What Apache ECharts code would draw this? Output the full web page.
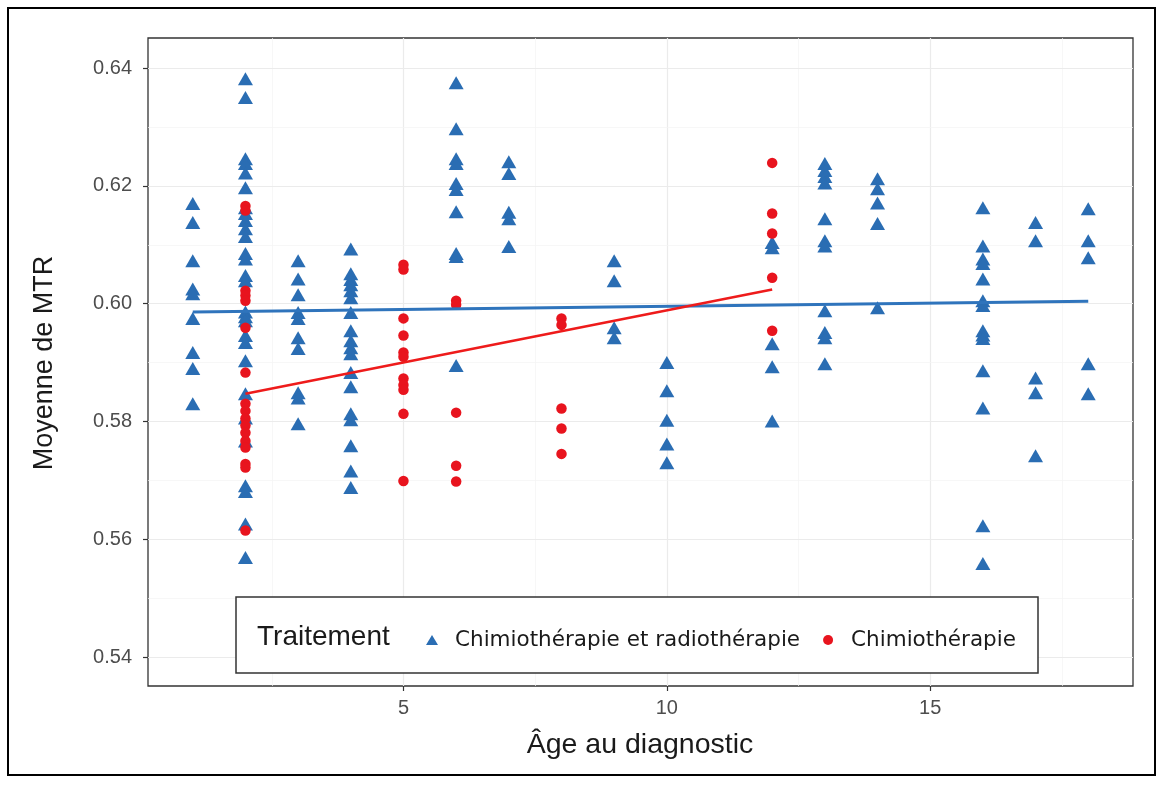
<!DOCTYPE html>
<html>
<head>
<meta charset="utf-8">
<script src="https://cdn.jsdelivr.net/npm/echarts@6/dist/echarts.min.js"></script>
<style>
html,body{margin:0;padding:0;background:#fff;}
#chart{width:1163px;height:785px;}
</style>
</head>
<body>
<div id="chart"></div>
<script>
// ---- Data ----
const xTicks = [5, 10, 15];
const yTicks = [0.54, 0.56, 0.58, 0.60, 0.62, 0.64];
const xMinorGrid = [2.5, 7.5, 12.5, 17.5];
const yMinorGrid = [0.55, 0.57, 0.59, 0.61, 0.63];

const seriesNames = ['Chimiothérapie et radiothérapie', 'Chimiothérapie'];

// Chimiothérapie et radiothérapie (blue triangles)
const crAges = [1, 2, 3, 4, 6, 7, 9, 10, 12, 13, 14, 16, 17, 18];
const crValues = [
  [0.6170, 0.6138, 0.6073, 0.6025, 0.6017, 0.5975, 0.5917, 0.5890, 0.5830],
  [0.6382, 0.6350, 0.6246, 0.6238, 0.6222, 0.6197, 0.6163, 0.6153, 0.6141, 0.6127, 0.6114, 0.6085, 0.6076, 0.6048, 0.6039, 0.5986, 0.5978, 0.5971, 0.5946, 0.5934, 0.5903, 0.5847, 0.5806, 0.5767, 0.5691, 0.5681, 0.5626, 0.5569],
  [0.6073, 0.6042, 0.6015, 0.5985, 0.5975, 0.5942, 0.5924, 0.5849, 0.5840, 0.5796],
  [0.6093, 0.6051, 0.6041, 0.6032, 0.6022, 0.6010, 0.5985, 0.5954, 0.5937, 0.5925, 0.5915, 0.5883, 0.5859, 0.5813, 0.5803, 0.5759, 0.5716, 0.5688],
  [0.6375, 0.6297, 0.6246, 0.6238, 0.6204, 0.6194, 0.6156, 0.6085, 0.6080, 0.5895],
  [0.6241, 0.6221, 0.6155, 0.6144, 0.6097],
  [0.6073, 0.6039, 0.5959, 0.5942],
  [0.5900, 0.5852, 0.5802, 0.5762, 0.5730],
  [0.6104, 0.6095, 0.5932, 0.5893, 0.5801],
  [0.6238, 0.6226, 0.6216, 0.6205, 0.6144, 0.6107, 0.6098, 0.5988, 0.5951, 0.5942, 0.5898],
  [0.6212, 0.6195, 0.6171, 0.6136, 0.5993],
  [0.6163, 0.6098, 0.6076, 0.6068, 0.6042, 0.6005, 0.5997, 0.5954, 0.5947, 0.5941, 0.5886, 0.5823, 0.5623, 0.5559],
  [0.6138, 0.6107, 0.5874, 0.5849, 0.5742],
  [0.6161, 0.6107, 0.6078, 0.5898, 0.5847]
];

// Chimiothérapie (red dots)
const chAges = [2, 5, 6, 8, 12];
const chValues = [
  [0.6166, 0.6158, 0.6022, 0.6014, 0.6005, 0.5959, 0.5883, 0.5830, 0.5818, 0.5805, 0.5793, 0.5781, 0.5767, 0.5756, 0.5728, 0.5722, 0.5615],
  [0.6066, 0.6058, 0.5975, 0.5946, 0.5917, 0.5910, 0.5873, 0.5862, 0.5854, 0.5813, 0.5699],
  [0.6005, 0.5998, 0.5815, 0.5725, 0.5698],
  [0.5975, 0.5964, 0.5822, 0.5788, 0.5745],
  [0.6239, 0.6153, 0.6119, 0.6044, 0.5954]
];

// Fitted linear trends (endpoints)
const fitCrAges = [1, 18];
const fitCrValues = [0.5986, 0.6004];
const fitChAges = [2, 12];
const fitChValues = [0.5847, 0.6024];

// ---- Build ----
function pairs(ages, groups) {
  const out = [];
  ages.forEach((a, i) => groups[i].forEach(v => out.push([a, v])));
  return out;
}
function line(ages, vals) { return ages.map((a, i) => [a, vals[i]]); }

const BLUE = '#2A6DB3';
const RED = '#E8141E';
const FONT = 'Liberation Sans';

const gridLines = [];
const major = { color: '#EBEBEB', width: 1.2, type: 'solid' };
const minor = { color: '#F4F4F4', width: 0.7, type: 'solid' };
xTicks.forEach(v => gridLines.push({ xAxis: v, lineStyle: major }));
xMinorGrid.forEach(v => gridLines.push({ xAxis: v, lineStyle: minor }));
yTicks.forEach(v => gridLines.push({ yAxis: v, lineStyle: major }));
yMinorGrid.forEach(v => gridLines.push({ yAxis: v, lineStyle: minor }));

const chart = echarts.init(document.getElementById('chart'), null, { renderer: 'canvas' });
chart.setOption({
  backgroundColor: '#fff',
  animation: false,
  textStyle: { fontFamily: FONT },
  grid: {
    left: 148, right: 30, top: 38, bottom: 99,
    show: true, borderColor: '#333', borderWidth: 1.3, backgroundColor: '#fff'
  },
  xAxis: {
    type: 'value', min: 0.15, max: 18.85,
    axisLine: { show: false },
    axisTick: { show: true, length: 5, customValues: xTicks, lineStyle: { color: '#333', width: 1.2 } },
    axisLabel: { customValues: xTicks, color: '#4D4D4D', fontSize: 20, fontFamily: FONT, margin: 12 },
    splitLine: { show: false }
  },
  yAxis: {
    type: 'value', min: 0.5351, max: 0.6451,
    axisLine: { show: false },
    axisTick: { show: true, length: 5, customValues: yTicks, lineStyle: { color: '#333', width: 1.2 } },
    axisLabel: { customValues: yTicks, color: '#4D4D4D', fontSize: 20, fontFamily: FONT, margin: 16,
      formatter: v => v.toFixed(2) },
    splitLine: { show: false }
  },
  legend: {
    data: seriesNames,
    left: 421, top: 624,
    itemWidth: 12, itemHeight: 10, itemGap: 23,
    textStyle: { fontSize: 21.5, color: '#1a1a1a', fontFamily: 'DejaVu Sans', padding: [0, 0, 0, 12] },
    z: 20
  },
  graphic: [
    { type: 'rect', z: 10, shape: { x: 236, y: 597, width: 802, height: 76 },
      style: { fill: '#fff', stroke: '#333', lineWidth: 1.5 } },
    { type: 'text', z: 21, x: 257, y: 637,
      style: { text: 'Traitement', fill: '#1a1a1a', font: '28px "Liberation Sans"', verticalAlign: 'middle' } },
    { type: 'text', z: 21, x: 640, y: 745,
      style: { text: 'Âge au diagnostic', fill: '#1a1a1a', font: '28.5px "Liberation Sans"', align: 'center', verticalAlign: 'middle' } },
    { type: 'text', z: 21, x: 45, y: 363, rotation: Math.PI / 2,
      style: { text: 'Moyenne de MTR', fill: '#1a1a1a', font: '27px "Liberation Sans"', align: 'center', verticalAlign: 'middle' } },
    { type: 'rect', z: 30, shape: { x: 8, y: 8, width: 1147, height: 767 },
      style: { fill: 'none', stroke: '#000', lineWidth: 2 } }
  ],
  series: [
    {
      name: 'grid', type: 'line', data: [], silent: true, z: 0,
      markLine: { silent: true, symbol: 'none', z: 0, label: { show: false }, animation: false, data: gridLines }
    },
    {
      name: seriesNames[0], type: 'scatter', z: 3,
      symbol: 'triangle', symbolSize: [15, 13],
      itemStyle: { color: BLUE, opacity: 1 },
      data: pairs(crAges, crValues)
    },
    {
      name: seriesNames[1], type: 'scatter', z: 4,
      symbol: 'circle', symbolSize: 10.5,
      itemStyle: { color: RED, opacity: 1 },
      data: pairs(chAges, chValues)
    },
    {
      name: 'fitCR', type: 'line', z: 5, symbol: 'none', silent: true,
      lineStyle: { color: '#2F74BC', width: 3 },
      data: line(fitCrAges, fitCrValues)
    },
    {
      name: 'fitCH', type: 'line', z: 6, symbol: 'none', silent: true,
      lineStyle: { color: '#EE1B1B', width: 2.6 },
      data: line(fitChAges, fitChValues)
    }
  ]
});
</script>
</body>
</html>
